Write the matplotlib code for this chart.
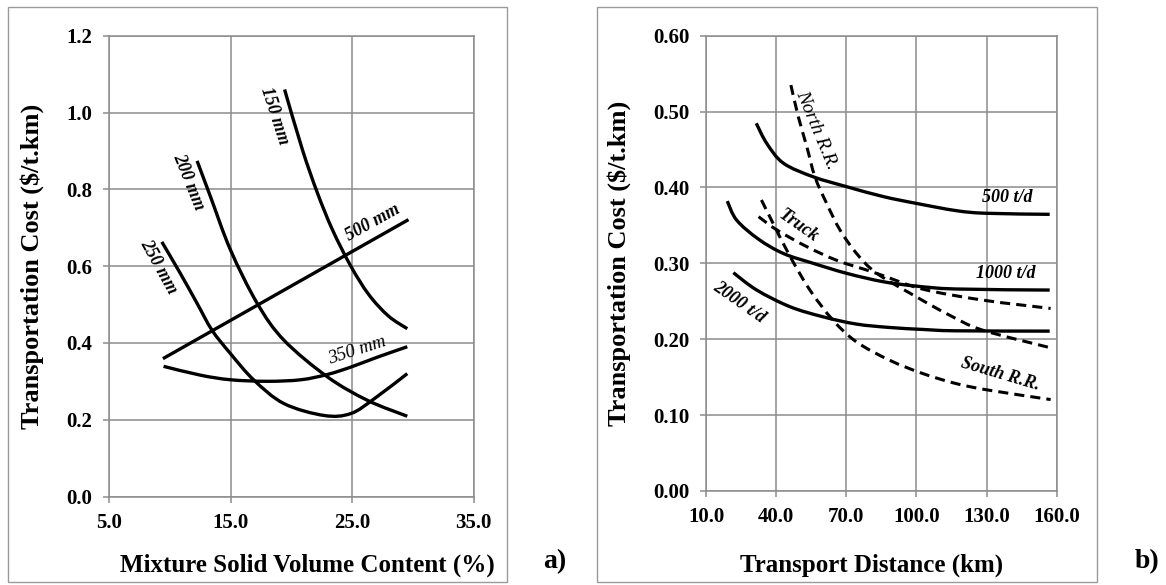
import matplotlib
matplotlib.use("Agg")
import matplotlib.pyplot as plt
from matplotlib.patches import Rectangle, PathPatch
from matplotlib.path import Path

# ---------------- data: panel a) ----------------
a_xticks = [5.0, 15.0, 25.0, 35.0]
a_yticks = [0.0, 0.2, 0.4, 0.6, 0.8, 1.0, 1.2]

mm150_x = [19.45, 20.92, 22.16, 23.4, 24.9, 26.4, 28.0, 29.55]
mm150_y = [1.060, 0.903, 0.790, 0.694, 0.600, 0.525, 0.470, 0.437]

mm200_x = [12.25, 13.35, 15.0, 17.2, 19.4, 23.0, 26.3, 29.55]
mm200_y = [0.874, 0.781, 0.642, 0.503, 0.407, 0.311, 0.250, 0.209]

mm250_x = [9.35, 10.87, 12.25, 13.48, 15.0, 16.93, 19.4, 22.7, 24.9, 26.85, 29.55]
mm250_y = [0.663, 0.581, 0.503, 0.433, 0.372, 0.303, 0.242, 0.211, 0.216, 0.255, 0.320]

mm350_x = [9.49, 12.52, 15.0, 18.03, 20.79, 23.0, 24.9, 27.1, 29.55]
mm350_y = [0.339, 0.316, 0.304, 0.300, 0.304, 0.318, 0.337, 0.363, 0.390]

mm500_x = [9.44, 29.65]
mm500_y = [0.359, 0.721]

# ---------------- data: panel b) ----------------
b_xticks = [10.0, 40.0, 70.0, 100.0, 130.0, 160.0]
b_yticks = [0.0, 0.1, 0.2, 0.3, 0.4, 0.5, 0.6]

td500_x = [31.5, 36.0, 43.1, 55.9, 70.2, 85.8, 100.0, 116.9, 129.7, 157.0]
td500_y = [0.4846, 0.458, 0.432, 0.414, 0.401, 0.388, 0.379, 0.3695, 0.366, 0.3646]

td1000_x = [19.1, 23.1, 32.4, 43.1, 55.9, 70.2, 85.8, 100.0, 116.9, 157.0]
td1000_y = [0.382, 0.357, 0.332, 0.313, 0.300, 0.2868, 0.2758, 0.270, 0.2662, 0.2648]

td2000_x = [21.7, 31.6, 45.8, 60.0, 74.3, 88.5, 102.7, 116.9, 157.0]
td2000_y = [0.2877, 0.265, 0.243, 0.2296, 0.220, 0.2155, 0.2129, 0.2111, 0.2107]

north_x = [46.3, 49.5, 53.1, 56.6, 61.6, 67.3, 74.4, 83.0, 99.9, 114.1, 128.3, 157.4]
north_y = [0.535, 0.493, 0.454, 0.414, 0.379, 0.344, 0.313, 0.287, 0.256, 0.2318, 0.212, 0.1887]

truck_x = [32.5, 40.3, 53.1, 65.9, 78.7, 86.0, 102.7, 128.3, 157.4]
truck_y = [0.3615, 0.344, 0.322, 0.304, 0.2912, 0.2835, 0.266, 0.2516, 0.2406]

south_x = [33.7, 38.7, 45.8, 54.4, 64.3, 74.3, 88.5, 102.7, 116.9, 131.1, 157.4]
south_y = [0.3835, 0.3527, 0.310, 0.265, 0.2252, 0.1966, 0.1724, 0.1548, 0.1416, 0.1328, 0.1205]

# ---------------- styling ----------------
W, H = 1166, 585
SERIF = "Liberation Serif"
GRID = "#8c8c8c"
LW = 2.4
DASH = (0, (3.3, 2.0))

fig = plt.figure(figsize=(W / 100, H / 100), dpi=100)


def box(x0, y0, x1, y1):
    fig.patches.append(Rectangle((x0 / W, 1 - y1 / H), (x1 - x0) / W, (y1 - y0) / H,
                                 transform=fig.transFigure, fill=False,
                                 ec="#9a9a9a", lw=1.0))


def smooth_line(ax, xs, ys, **kw):
    """Draw a smoothed (Catmull-Rom / Bezier) line through the data points."""
    pts = list(zip(xs, ys))
    n = len(pts)
    verts = [pts[0]]
    codes = [Path.MOVETO]
    for i in range(n - 1):
        p0 = pts[i - 1] if i > 0 else pts[i]
        p1 = pts[i]
        p2 = pts[i + 1]
        p3 = pts[i + 2] if i + 2 < n else pts[i + 1]
        c1 = (p1[0] + (p2[0] - p0[0]) / 6, p1[1] + (p2[1] - p0[1]) / 6)
        c2 = (p2[0] - (p3[0] - p1[0]) / 6, p2[1] - (p3[1] - p1[1]) / 6)
        verts += [c1, c2, p2]
        codes += [Path.CURVE4] * 3
    patch = PathPatch(Path(verts, codes), fill=False, transform=ax.transData,
                      capstyle="butt", **kw)
    ax.add_patch(patch)


def style_axes(ax, xlim, ylim, xticks, yticks, xfmt, yfmt):
    ax.set_xlim(*xlim)
    ax.set_ylim(*ylim)
    ax.set_xticks(xticks)
    ax.set_yticks(yticks)
    ax.set_xticklabels([xfmt.format(v) for v in xticks])
    ax.set_yticklabels([yfmt.format(v) for v in yticks])
    ax.grid(True, color=GRID, lw=1.1)
    ax.set_axisbelow(True)
    for s in ax.spines.values():
        s.set_color(GRID)
        s.set_linewidth(1.1)
    ax.tick_params(direction="out", length=4.3, width=1.1, color=GRID, pad=7.5,
                   labelsize=15)
    for lab in ax.get_xticklabels() + ax.get_yticklabels():
        lab.set_fontfamily(SERIF)
        lab.set_fontweight("bold")


box(8, 7, 507, 582)
box(597, 7, 1097, 582)

# ---------------- panel a ----------------
axA = fig.add_axes([109 / W, 1 - 496.5 / H, (473.5 - 109) / W, (496.5 - 35.7) / H])
style_axes(axA, (5, 35), (0, 1.2), a_xticks, a_yticks, "{:.1f}", "{:.1f}")
for xs, ys in [(mm150_x, mm150_y), (mm200_x, mm200_y), (mm250_x, mm250_y),
               (mm350_x, mm350_y)]:
    smooth_line(axA, xs, ys, color="black", lw=LW)
axA.plot(mm500_x, mm500_y, color="black", lw=LW, solid_capstyle="butt")

lab_kw = dict(family=SERIF, style="italic", ha="center", va="center",
              rotation_mode="anchor")
axA.text(18.66, 0.992, "150 mm", rotation=-72, fontweight="bold", fontsize=13, **lab_kw)
axA.text(11.53, 0.819, "200 mm", rotation=-68, fontweight="bold", fontsize=13, **lab_kw)
axA.text(9.12, 0.598, "250 mm", rotation=-61, fontweight="bold", fontsize=13, **lab_kw)
axA.text(26.75, 0.714, "500 mm", rotation=29, fontweight="bold", fontsize=13, **lab_kw)
axA.text(25.45, 0.380, "350 mm", rotation=18, fontweight="normal", fontsize=13.5, **lab_kw)

axA.set_xlabel("Mixture Solid Volume Content (%)", family=SERIF, fontweight="bold",
               fontsize=18)
axA.xaxis.set_label_coords(0.5446, -0.1487)
axA.xaxis.label.set_va("center")
axA.set_ylabel("Transportation Cost ($/t.km)", family=SERIF, fontweight="bold",
               fontsize=19)
axA.yaxis.label.set_va("center")
axA.yaxis.set_label_coords(-0.212, 0.5)

# ---------------- panel b ----------------
axB = fig.add_axes([706 / W, 1 - 491 / H, (1056.7 - 706) / W, (491 - 35.7) / H])
style_axes(axB, (10, 160), (0, 0.6), b_xticks, b_yticks, "{:.1f}", "{:.2f}")
for xs, ys in [(td500_x, td500_y), (td1000_x, td1000_y), (td2000_x, td2000_y)]:
    smooth_line(axB, xs, ys, color="black", lw=LW)
for xs, ys in [(north_x, north_y), (truck_x, truck_y), (south_x, south_y)]:
    smooth_line(axB, xs, ys, color="black", lw=2.2, linestyle=DASH)

axB.text(57.4, 0.4756, "North R.R.", rotation=-67.5, fontweight="normal", fontsize=14,
         **lab_kw)
axB.text(49.4, 0.349, "Truck", rotation=-35, fontweight="bold", fontsize=13, **lab_kw)
axB.text(138.7, 0.3864, "500 t/d", rotation=0, fontweight="bold", fontsize=13, **lab_kw)
axB.text(138.0, 0.286, "1000 t/d", rotation=0, fontweight="bold", fontsize=13, **lab_kw)
axB.text(24.1, 0.248, "2000 t/d", rotation=-35, fontweight="bold", fontsize=13, **lab_kw)
axB.text(135.9, 0.154, "South R.R.", rotation=-16.5, fontweight="bold", fontsize=13,
         **lab_kw)

axB.set_xlabel("Transport Distance (km)", family=SERIF, fontweight="bold", fontsize=18)
axB.xaxis.set_label_coords(0.4735, -0.1625)
axB.xaxis.label.set_va("center")
axB.set_ylabel("Transportation Cost ($/t.km)", family=SERIF, fontweight="bold",
               fontsize=19)
axB.yaxis.label.set_va("center")
axB.yaxis.set_label_coords(-0.248, 0.5)

fig.text(555 / W, 1 - 562 / H, "a)", family=SERIF, fontweight="bold", fontsize=20,
         ha="center", va="center")
fig.text(1147 / W, 1 - 562 / H, "b)", family=SERIF, fontweight="bold", fontsize=20,
         ha="center", va="center")

fig.savefig("out.png", dpi=100, facecolor="white")
